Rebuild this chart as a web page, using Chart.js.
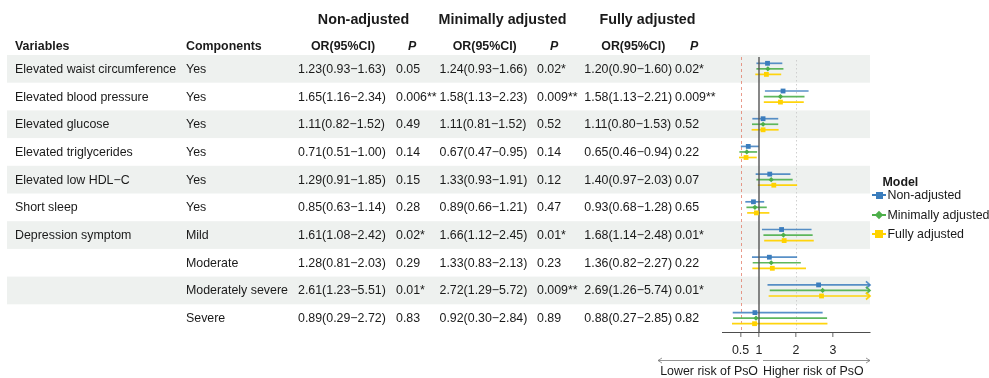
<!DOCTYPE html>
<html>
<head>
<meta charset="utf-8">
<script src="https://cdn.jsdelivr.net/npm/chart.js@4.4.1/dist/chart.umd.min.js"></script>
<style>
  html, body { margin: 0; padding: 0; background: #ffffff; }
  #wrap { position: relative; width: 989px; height: 378px; overflow: hidden;
          font-family: "Liberation Sans", Arial, Helvetica, sans-serif; color: #1a1a1a; }
  #plot { position: absolute; left: 0; top: 0; }
  .t { position: absolute; white-space: nowrap; font-size: 12.4px; line-height: 16px; }
  .b { font-weight: bold; }
  .i { font-style: italic; }
  .h { font-weight: bold; font-size: 14.3px; line-height: 18px; }
  .glyph { position: absolute; }
  .glyph .ln { position: absolute; left: 0; top: -1px; width: 14px; height: 2px; }
  .glyph .mk { position: absolute; }
</style>
</head>
<body>
<div id="wrap">
  <canvas id="plot" width="989" height="378"></canvas>
</div>
<script>
// ---- table rows ----
const variables = [
  "Elevated waist circumference", "Elevated blood pressure", "Elevated glucose",
  "Elevated triglycerides", "Elevated low HDL\u2212C", "Short sleep",
  "Depression symptom", "", "", ""
];
const components = [
  "Yes", "Yes", "Yes", "Yes", "Yes", "Yes",
  "Mild", "Moderate", "Moderately severe", "Severe"
];
const models = ["Non-adjusted", "Minimally adjusted", "Fully adjusted"];

// ---- odds ratios with 95% CI and P values ----
const orNon = [1.23, 1.65, 1.11, 0.71, 1.29, 0.85, 1.61, 1.28, 2.61, 0.89];
const loNon = [0.93, 1.16, 0.82, 0.51, 0.91, 0.63, 1.08, 0.81, 1.23, 0.29];
const hiNon = [1.63, 2.34, 1.52, 1.00, 1.85, 1.14, 2.42, 2.03, 5.51, 2.72];
const pNon  = ["0.05", "0.006**", "0.49", "0.14", "0.15", "0.28", "0.02*", "0.29", "0.01*", "0.83"];

const orMin = [1.24, 1.58, 1.11, 0.67, 1.33, 0.89, 1.66, 1.33, 2.72, 0.92];
const loMin = [0.93, 1.13, 0.81, 0.47, 0.93, 0.66, 1.12, 0.83, 1.29, 0.30];
const hiMin = [1.66, 2.23, 1.52, 0.95, 1.91, 1.21, 2.45, 2.13, 5.72, 2.84];
const pMin  = ["0.02*", "0.009**", "0.52", "0.14", "0.12", "0.47", "0.01*", "0.23", "0.009**", "0.89"];

const orFull = [1.20, 1.58, 1.11, 0.65, 1.40, 0.93, 1.68, 1.36, 2.69, 0.88];
const loFull = [0.90, 1.13, 0.80, 0.46, 0.97, 0.68, 1.14, 0.82, 1.26, 0.27];
const hiFull = [1.60, 2.21, 1.53, 0.94, 2.03, 1.28, 2.48, 2.27, 5.74, 2.85];
const pFull  = ["0.02*", "0.009**", "0.52", "0.22", "0.07", "0.65", "0.01*", "0.22", "0.01*", "0.82"];

const xTicks = [0.5, 1, 2, 3];

// ---- styling ----
const colors = ["#3b7dbd", "#4daf4a", "#ffd200"];
const lineColors = ["rgba(59,125,189,0.85)", "rgba(77,175,74,0.9)", "rgba(255,210,0,0.95)"];
const bandColor = "#eef1ef";
const rowOffset = [-0.2, 0, 0.2];

const series = [
  { or: orNon,  lo: loNon,  hi: hiNon,  p: pNon },
  { or: orMin,  lo: loMin,  hi: hiMin,  p: pMin },
  { or: orFull, lo: loFull, hi: hiFull, p: pFull }
];

const fmt = v => v.toFixed(2);
const ciText = (s, i) => `${fmt(s.or[i])}(${fmt(s.lo[i])}\u2212${fmt(s.hi[i])})`;

// Draws row bands, reference lines, CI whiskers and arrows
const forestPlugin = {
  id: "forest",
  beforeDatasetsDraw(chart) {
    const { ctx, chartArea: a, scales: { x, y } } = chart;
    ctx.save();
    // alternating row bands spanning the table and the plot
    ctx.fillStyle = bandColor;
    for (let i = 0; i < variables.length; i += 2) {
      const t = y.getPixelForValue(i + 0.5), b = y.getPixelForValue(i + 1.5);
      ctx.fillRect(7, t, a.right - 7, b - t);
    }
    // dashed line at 0.5
    ctx.strokeStyle = "rgba(226,120,100,0.75)";
    ctx.lineWidth = 1;
    ctx.setLineDash([3, 3]);
    let px = Math.round(x.getPixelForValue(0.5)) + 0.5;
    ctx.beginPath(); ctx.moveTo(px, a.top + 2); ctx.lineTo(px, a.bottom); ctx.stroke();
    // dotted line at 2
    ctx.strokeStyle = "#cfcfcf";
    ctx.setLineDash([1.5, 2.5]);
    px = Math.round(x.getPixelForValue(2)) + 0.5;
    ctx.beginPath(); ctx.moveTo(px, a.top + 5); ctx.lineTo(px, a.bottom); ctx.stroke();
    ctx.setLineDash([]);

    // CI whiskers
    chart.data.datasets.forEach((ds, d) => {
      ctx.strokeStyle = lineColors[d];
      ctx.lineWidth = 1.7;
      ds.data.forEach(pt => {
        const py = y.getPixelForValue(pt.y);
        const x0 = x.getPixelForValue(Math.max(pt.lo, x.min));
        const over = pt.hi > x.max;
        const x1 = x.getPixelForValue(Math.min(pt.hi, x.max));
        ctx.beginPath(); ctx.moveTo(x0, py); ctx.lineTo(x1, py); ctx.stroke();
        if (over) {
          ctx.beginPath();
          ctx.moveTo(x1 - 4, py - 3.5); ctx.lineTo(x1, py); ctx.lineTo(x1 - 4, py + 3.5);
          ctx.stroke();
        }
      });
    });

    // reference line at OR = 1
    ctx.strokeStyle = "#555555";
    ctx.lineWidth = 1.4;
    px = x.getPixelForValue(1);
    ctx.beginPath(); ctx.moveTo(px, a.top + 2); ctx.lineTo(px, a.bottom); ctx.stroke();
    ctx.restore();
  },
  afterDraw(chart) {
    const { ctx, chartArea: a, scales: { x } } = chart;
    const one = x.getPixelForValue(1);
    const yy = 360.5;
    ctx.save();
    ctx.strokeStyle = "#7a7a7a";
    ctx.lineWidth = 0.8;
    // lower-risk arrow (pointing left)
    ctx.beginPath(); ctx.moveTo(one, yy); ctx.lineTo(658, yy); ctx.stroke();
    ctx.beginPath(); ctx.moveTo(662, yy - 2.5); ctx.lineTo(658, yy); ctx.lineTo(662, yy + 2.5); ctx.stroke();
    // higher-risk arrow (pointing right)
    ctx.beginPath(); ctx.moveTo(one + 4, yy); ctx.lineTo(a.right, yy); ctx.stroke();
    ctx.beginPath(); ctx.moveTo(a.right - 4, yy - 2.5); ctx.lineTo(a.right, yy); ctx.lineTo(a.right - 4, yy + 2.5); ctx.stroke();
    ctx.restore();
  }
};

const datasets = series.map((s, d) => ({
  label: models[d],
  data: s.or.map((v, i) => ({ x: v, y: i + 1 + rowOffset[d], lo: s.lo[i], hi: s.hi[i] })),
  pointStyle: d === 1 ? "rectRot" : "rect",
  pointRadius: d === 1 ? 2.6 : 3.4,
  pointHoverRadius: d === 1 ? 2.6 : 3.4,
  backgroundColor: colors[d],
  borderColor: colors[d],
  borderWidth: 0,
  showLine: false
}));

const chart = new Chart(document.getElementById("plot"), {
  type: "scatter",
  data: { datasets },
  options: {
    responsive: false,
    animation: false,
    devicePixelRatio: 1,
    layout: { padding: { left: 722, right: 119, top: 55, bottom: 0 } },
    plugins: { legend: { display: false }, tooltip: { enabled: false } },
    scales: {
      x: {
        type: "linear", min: 0, max: 4,
        afterBuildTicks: sc => { sc.ticks = xTicks.map(v => ({ value: v })); },
        afterFit: sc => { sc.height = 46; },
        grid: { drawOnChartArea: false, drawTicks: true, tickLength: 5, color: "#9a9a9a", lineWidth: 1.5 },
        border: { display: true, color: "#4d4d4d", width: 1 },
        ticks: {
          color: "#222222", padding: 6,
          font: { family: "'Liberation Sans', Arial, sans-serif", size: 12.4 },
          callback: v => String(v)
        }
      },
      y: { type: "linear", min: 0.5, max: 10.5, reverse: true, display: false }
    }
  },
  plugins: [forestPlugin]
});

// ---- text layer ----
const wrap = document.getElementById("wrap");
function put(text, x, yc, cls, align) {
  const el = document.createElement("div");
  el.className = "t " + (cls || "");
  el.textContent = text;
  const lh = (cls || "").includes("h") ? 18 : 16;
  el.style.left = x + "px";
  el.style.top = (yc - lh / 2) + "px";
  if (align === "center") el.style.transform = "translateX(-50%)";
  if (align === "right") el.style.transform = "translateX(-100%)";
  wrap.appendChild(el);
  return el;
}

const ys = chart.scales.y;
const orCols = [298, 439.5, 584.3];
const pCols = [396, 537, 675];
const headCenters = [363.5, 502.5, 647.5];
const orHeadCenters = [343, 484.7, 633.3];
const pHeadX = [408, 550, 690];

models.forEach((m, d) => {
  put(m, headCenters[d], 19, "h", "center");
  put("OR(95%CI)", orHeadCenters[d], 45.5, "b", "center");
  put("P", pHeadX[d], 45.5, "b i");
});
put("Variables", 15, 45.5, "b");
put("Components", 186, 45.5, "b");

variables.forEach((v, i) => {
  const yc = ys.getPixelForValue(i + 1);
  if (v) put(v, 15, yc);
  put(components[i], 186, yc);
  series.forEach((s, d) => {
    put(ciText(s, i), orCols[d], yc);
    put(s.p[i], pCols[d], yc);
  });
});

// axis captions
const one = chart.scales.x.getPixelForValue(1);
put("Lower risk of PsO", one - 1, 371, "", "right");
put("Higher risk of PsO", one + 4, 371);

// legend
put("Model", 882.5, 182, "b");
const legendY = [195, 214.5, 234];
models.forEach((m, d) => {
  const g = document.createElement("div");
  g.className = "glyph";
  g.style.left = "872px";
  g.style.top = legendY[d] + "px";
  const ln = document.createElement("div");
  ln.className = "ln";
  ln.style.background = colors[d];
  g.appendChild(ln);
  const mk = document.createElement("div");
  mk.className = "mk";
  mk.style.background = colors[d];
  if (d === 1) {
    mk.style.width = "6px"; mk.style.height = "6px";
    mk.style.left = "4px"; mk.style.top = "-3px";
    mk.style.transform = "rotate(45deg)";
  } else {
    const s = d === 0 ? 7 : 8;
    mk.style.width = s + "px"; mk.style.height = s + "px";
    mk.style.left = (7 - s / 2) + "px"; mk.style.top = (-s / 2) + "px";
  }
  g.appendChild(mk);
  wrap.appendChild(g);
  put(m, 887.5, legendY[d]);
});
</script>
</body>
</html>
